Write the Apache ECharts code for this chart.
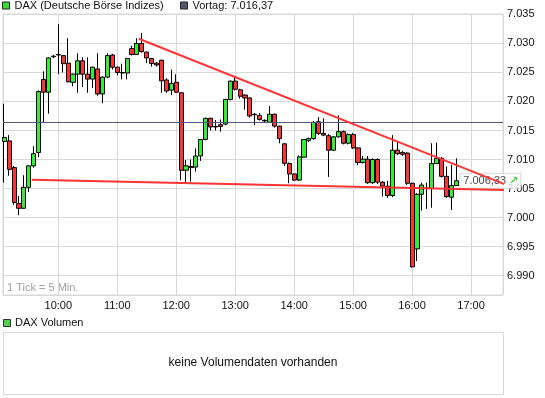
<!DOCTYPE html>
<html><head><meta charset="utf-8">
<script src="https://cdn.jsdelivr.net/npm/echarts@6/dist/echarts.min.js"></script>
<style>html,body{margin:0;padding:0;background:#fff}#c{width:545px;height:398px}</style>
</head><body><div id="c"></div>
<script>
// ---- data (5-minute candles) ----
const times = ["09:05","09:10","09:15","09:20","09:25","09:30","09:35","09:40","09:45","09:50","09:55",
"10:00","10:05","10:10","10:15","10:20","10:25","10:30","10:35","10:40","10:45","10:50","10:55",
"11:00","11:05","11:10","11:15","11:20","11:25","11:30","11:35","11:40","11:45","11:50","11:55",
"12:00","12:05","12:10","12:15","12:20","12:25","12:30","12:35","12:40","12:45","12:50","12:55",
"13:00","13:05","13:10","13:15","13:20","13:25","13:30","13:35","13:40","13:45","13:50","13:55",
"14:00","14:05","14:10","14:15","14:20","14:25","14:30","14:35","14:40","14:45","14:50","14:55",
"15:00","15:05","15:10","15:15","15:20","15:25","15:30","15:35","15:40","15:45","15:50","15:55",
"16:00","16:05","16:10","16:15","16:20","16:25","16:30","16:35","16:40","16:45"];
const open = [7013.1,7013.2,7008.6,7002.4,7001.6,7005.2,7008.9,7011.2,7023.8,7021.6,7027.7,
7028.1,7027.9,7026.6,7023.3,7024.7,7027.0,7024.7,7023.85,7025.6,7021.3,7024.2,7028.0,
7025.9,7025.0,7024.9,7029.1,7028.1,7030.0,7028.5,7027.4,7026.6,7027.1,7023.7,7021.95,
7023.3,7021.5,7008.15,7008.8,7008.7,7010.6,7013.45,7017.1,7015.7,7016.0,7016.1,7020.35,
7023.5,7022.0,7021.1,7020.6,7017.8,7017.6,7016.75,7016.4,7017.8,7015.75,7012.7,7009.3,
7007.5,7006.45,7010.4,7013.3,7013.6,7016.5,7014.5,7014.1,7011.6,7013.9,7014.8,7012.8,
7014.3,7012.0,7009.5,7010.05,7006.0,7010.0,7006.1,7005.4,7003.8,7011.6,7011.2,7011.1,
7005.9,6994.6,7004.0,7005.1,7005.0,7009.3,7010.2,7007.1,7003.5,7005.5];
const close = [7013.8,7008.3,7002.6,7001.6,7005.2,7008.9,7011.0,7021.7,7021.6,7027.5,7027.8,
7028.0,7026.5,7023.4,7024.7,7027.0,7024.7,7023.85,7025.9,7021.3,7024.2,7027.9,7025.9,
7025.0,7024.9,7027.4,7028.1,7030.0,7028.6,7027.5,7026.55,7026.3,7023.55,7021.8,7023.1,
7021.6,7008.15,7008.9,7008.6,7010.6,7013.45,7017.1,7015.6,7015.6,7015.7,7020.35,7023.5,
7022.1,7020.9,7020.6,7017.5,7017.7,7016.9,7016.65,7017.8,7015.75,7013.6,7009.35,7007.5,
7006.45,7010.45,7013.45,7013.6,7016.4,7014.5,7014.2,7011.6,7013.9,7014.8,7012.8,7014.3,
7012.0,7009.5,7010.05,7006.0,7010.0,7006.1,7005.4,7003.8,7011.6,7011.0,7010.9,7005.9,
6991.5,7004.0,7005.6,7005.0,7009.3,7010.2,7007.1,7003.6,7005.5,7006.33];
const low = [7006.0,7007.2,7002.2,7000.4,7001.5,7004.4,7008.6,7010.4,7016.4,7017.9,7027.5,
7024.7,7025.0,7023.3,7022.6,7021.5,7022.5,7021.5,7022.3,7021.0,7019.7,7024.0,7025.5,
7024.5,7023.8,7023.8,7027.9,7028.0,7028.4,7026.6,7026.0,7026.0,7021.5,7021.5,7021.1,
7021.5,7006.4,7005.9,7006.2,7007.9,7009.75,7013.3,7015.0,7015.0,7014.8,7015.9,7020.2,
7021.9,7020.5,7018.6,7017.2,7015.9,7016.7,7016.3,7016.3,7015.5,7012.8,7008.9,7005.9,
7006.3,7006.3,7010.3,7013.0,7013.4,7014.2,7014.0,7007.0,7011.5,7013.8,7012.6,7012.6,
7011.8,7009.0,7009.3,7005.8,7005.8,7005.8,7003.6,7003.4,7003.5,7010.8,7010.6,7005.6,
6991.4,6992.5,7001.2,7001.5,7001.7,7009.2,7006.9,7003.4,7001.3,7005.5];
const high = [7019.6,7014.2,7008.9,7003.7,7007.3,7009.0,7012.3,7021.9,7025.2,7027.6,7028.0,
7033.3,7028.0,7030.9,7024.8,7028.3,7027.6,7027.6,7026.0,7028.3,7024.3,7028.3,7028.2,
7026.0,7026.5,7027.5,7029.6,7030.9,7031.8,7028.6,7027.5,7026.8,7027.2,7024.0,7025.5,
7024.7,7021.6,7009.9,7010.0,7011.9,7013.5,7017.2,7017.2,7016.8,7016.9,7020.4,7023.6,
7024.4,7022.2,7021.2,7020.7,7018.0,7018.0,7016.9,7019.2,7017.9,7015.8,7012.8,7009.5,
7007.6,7010.7,7013.5,7013.8,7016.6,7017.3,7017.1,7014.4,7014.0,7017.6,7015.0,7014.5,
7014.6,7012.1,7010.6,7010.6,7010.2,7010.2,7006.3,7006.3,7014.2,7013.0,7011.5,7011.3,
7006.0,7004.2,7006.0,7006.0,7012.8,7012.9,7010.4,7008.8,7009.1,7010.2];
const vortag = 7016.37;
const trendUpper = [["11:22", 7030.8], ["17:45", 7005.0]];
const trendLower = [["09:33", 7006.5], ["17:45", 7004.7]];
const xRange = ["09:03:45", "17:32:30"];
const yRange = [6986.65, 7035.07];

// ---- helpers ----
function toMin(s){ const p = s.split(':').map(Number); return p[0]*60 + p[1] + (p[2]||0)/60; }
function pad(n){ return (n<10?'0':'') + n; }
function fmtDE(v, d){
  const s = v.toFixed(d); let [i, f] = s.split('.');
  i = i.replace(/\B(?=(\d{3})+(?!\d))/g, '.');
  return f ? i + ',' + f : i;
}
const FONT = '"Liberation Sans", Arial, sans-serif';
const xMin = toMin(xRange[0]), xMax = toMin(xRange[1]);
const candles = times.map((t, i) => [toMin(t), open[i], close[i], low[i], high[i]]);
const last = times.length - 1;
const seriesName = 'DAX (Deutsche Börse Indizes)';
const vortagName = 'Vortag: ' + fmtDE(vortag, 2);

const chart = echarts.init(document.getElementById('c'), null, {renderer: 'canvas'});
chart.setOption({
  animation: false,
  backgroundColor: '#fff',
  textStyle: {fontFamily: FONT},
  legend: [
    {left: 2, top: 0, padding: 0, icon: 'rect', itemWidth: 7, itemHeight: 7, selectedMode: false,
     textStyle: {fontSize: 11, color: '#111', fontFamily: FONT},
     data: [{name: seriesName, itemStyle: {color: '#33dd33', borderColor: '#222', borderWidth: 1}}]},
    {left: 180, top: 0, padding: 0, icon: 'rect', itemWidth: 7, itemHeight: 7, selectedMode: false,
     textStyle: {fontSize: 11, color: '#111', fontFamily: FONT},
     data: [{name: vortagName, itemStyle: {color: '#555577', borderColor: '#222', borderWidth: 1}}]}
  ],
  grid: {left: 3, top: 14, width: 500, height: 281, show: true, backgroundColor: '#fff',
         borderColor: '#d8d8d8', borderWidth: 1, containLabel: false, outerBoundsMode: 'none'},
  xAxis: {
    type: 'value', min: xMin, max: xMax, minInterval: 60, maxInterval: 60,
    axisLine: {show: false}, axisTick: {show: false},
    splitLine: {show: true, lineStyle: {color: '#d8d8d8', width: 1}},
    axisLabel: {showMinLabel: false, showMaxLabel: false, margin: 5, fontSize: 11, color: '#111', fontFamily: FONT,
      formatter: v => pad(Math.floor(v/60)) + ':' + pad(Math.round(v%60))}
  },
  yAxis: {
    type: 'value', position: 'right', min: yRange[0], max: yRange[1], minInterval: 5, maxInterval: 5,
    axisLine: {show: false}, axisTick: {show: false},
    splitLine: {show: true, lineStyle: {color: '#d8d8d8', width: 1}},
    axisLabel: {showMinLabel: false, showMaxLabel: false, margin: 4, fontSize: 11, color: '#111', fontFamily: FONT,
      formatter: v => fmtDE(v, 0)}
  },
  series: [
    {name: seriesName, type: 'candlestick', data: candles, encode: {x: 0, y: [1,2,3,4]},
     barWidth: 4.6, z: 2,
     itemStyle: {color: '#33ee33', color0: '#ff3333', borderColor: '#000', borderColor0: '#000',
                 borderColorDoji: '#000', borderWidth: 1}},
    {name: 'last', type: 'scatter', z: 3, silent: true, symbolSize: 0,
     data: [[toMin(times[last]), close[last]]],
     label: {show: true, position: 'right', distance: 4,
       formatter: fmtDE(close[last], 2) + ' {a|↗}',
       fontSize: 11, color: '#111', fontFamily: FONT,
       backgroundColor: '#fff', borderColor: '#cfcfcf', borderWidth: 1, padding: [2, 2, 1, 3],
       rich: {a: {color: '#22bb22', fontSize: 11, fontFamily: '"DejaVu Sans", sans-serif', fontWeight: 'bold'}}}},
    {name: vortagName, type: 'line', z: 4, silent: true, symbol: 'none',
     data: [[xMin, vortag], [xMax, vortag]],
     lineStyle: {color: '#555577', width: 1}, itemStyle: {color: '#555577'}},
    {name: 'trendUpper', type: 'line', z: 5, silent: true, symbol: 'none', clip: false,
     data: trendUpper.map(d => [toMin(d[0]), d[1]]),
     lineStyle: {color: '#ff3333', width: 2}},
    {name: 'trendLower', type: 'line', z: 5, silent: true, symbol: 'none', clip: false,
     data: trendLower.map(d => [toMin(d[0]), d[1]]),
     lineStyle: {color: '#ff3333', width: 2}}
  ],
  graphic: [
    {type: 'text', left: 7, top: 282, silent: true,
     style: {text: '1 Tick = 5 Min.', fill: '#a0a0a0', font: '11px ' + FONT}},
    {type: 'rect', shape: {x: 3.5, y: 319.5, width: 7, height: 7}, silent: true,
     style: {fill: '#55cc55', stroke: '#333', lineWidth: 1}},
    {type: 'text', left: 15, top: 317, silent: true,
     style: {text: 'DAX Volumen', fill: '#111', font: '11px ' + FONT}},
    {type: 'rect', shape: {x: 3.5, y: 332.5, width: 500, height: 62}, silent: true,
     style: {fill: '#fff', stroke: '#d8d8d8', lineWidth: 1}},
    {type: 'text', x: 253, y: 363, silent: true,
     style: {text: 'keine Volumendaten vorhanden', fill: '#111', font: '12px ' + FONT,
             align: 'center', verticalAlign: 'middle'}}
  ]
});
</script></body></html>
